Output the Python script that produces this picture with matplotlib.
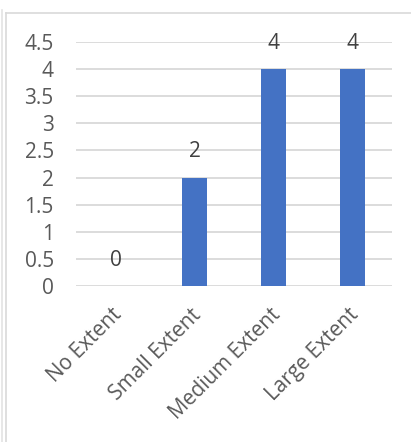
import matplotlib.pyplot as plt
import matplotlib.transforms as mtransforms
from matplotlib.lines import Line2D

categories = ['No Extent', 'Small Extent', 'Medium Extent', 'Large Extent']
values = [0, 2, 4, 4]
yticks = [0, 0.5, 1, 1.5, 2, 2.5, 3, 3.5, 4, 4.5]

W, H = 411, 442
fig = plt.figure(figsize=(W / 100, H / 100), dpi=100)
plt.rcParams['font.family'] = ['Open Sans', 'DejaVu Sans']

# chart frame lines
def px_line(x0, y0, x1, y1, c='#d9d9d9', lw=1.2):
    fig.add_artist(Line2D([x0 / W, x1 / W], [1 - y0 / H, 1 - y1 / H], color=c, lw=lw))

px_line(6, 13, 411, 13)
px_line(6, 13, 6, 442)
px_line(1.5, 10, 1.5, 442, c='#e3e3e3')

ax = fig.add_axes([76 / W, 1 - 286 / H, (392 - 76) / W, (286 - 42) / H])
x = range(len(categories))
bars = ax.bar(x, values, width=0.32, color='#4472c4', zorder=3)

ax.set_xlim(-0.5, 3.5)
ax.set_ylim(0, 4.5)
ax.set_yticks(yticks)
ax.set_yticklabels([f'{v:g}' for v in yticks], fontsize=15, color='#595959')
ax.yaxis.grid(True, color='#d9d9d9', lw=1.3, zorder=0)
ax.tick_params(axis='y', length=0, pad=16)
ax.tick_params(axis='x', length=0)
for s in ax.spines.values():
    s.set_visible(False)

ax.set_xticks(list(x))
ax.set_xticklabels(categories, rotation=45, ha='right', rotation_mode='anchor',
                   fontsize=15, color='#595959')
shift = mtransforms.ScaledTranslation(-4 / 100, -5 / 100, fig.dpi_scale_trans)
for lbl in ax.get_xticklabels():
    lbl.set_y(-0.035)
    lbl.set_transform(lbl.get_transform() + shift)

for xi, v in zip(x, values):
    ax.annotate(f'{v:g}', (xi, v), xytext=(0, 11), textcoords='offset points',
                ha='center', va='bottom', fontsize=15, color='#404040')

fig.savefig('out.png', dpi=100)
